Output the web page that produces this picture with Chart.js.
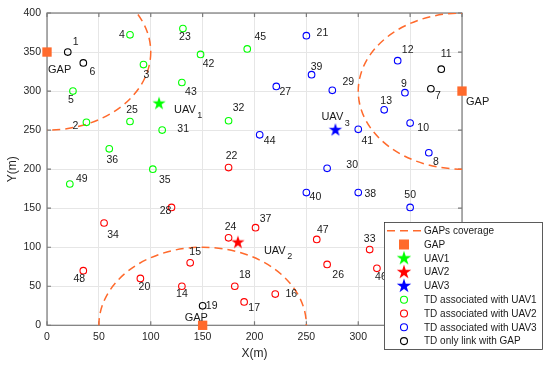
<!DOCTYPE html>
<html>
<head>
<meta charset="utf-8">
<script src="https://cdn.jsdelivr.net/npm/chart.js@4.4.1/dist/chart.umd.min.js"></script>
<style>
  html, body { margin: 0; background: #fff; }
</style>
</head>
<body>
<canvas id="chart" width="550" height="368"></canvas>
<script>
// terminal devices (TD): number, position, and what they link to (0 = GAP only, 1..3 = UAV)
const tdIds = [1,2,3,4,5,6,7,8,9,10,11,12,13,14,15,16,17,18,19,20,21,22,23,24,25,26,27,28,29,30,31,32,33,34,35,36,37,38,39,40,41,42,43,44,45,46,47,48,49,50];
const tdX = [20,38,93,80,25,35,370,368,345,350,380,338,325,130,138,220,190,181,150,90,250,175,131,175,80,270,221,120,275,270,111,175,311,55,102,60,201,300,255,250,300,148,130,205,193,318,260,35,22,350];
const tdY = [350,260,334,372,300,336,303,221,298,259,328,339,276,50,80,40,30,50,25,60,371,202,380,112,261,78,306,151,301,201,250,262,97,131,200,226,125,170,321,170,251,347,311,244,354,73,110,70,181,151];
const tdLink = [0,1,1,1,1,0,0,3,3,3,0,3,3,2,2,2,2,2,0,2,3,2,1,2,1,2,3,2,3,3,1,1,2,2,1,1,2,3,3,3,3,1,1,3,1,2,2,2,1,3];

const uavNames = ['UAV1', 'UAV2', 'UAV3'];
const uavX = [108, 184, 278];
const uavY = [284, 106, 250];

const gapX = [0, 400, 150];
const gapY = [350, 300, 0];
const coverageRadius = 100;

const axisTicks = [0, 50, 100, 150, 200, 250, 300, 350, 400];

// label placement next to each TD marker (pixels)
const labelOffset = {
  1:[8,-10], 2:[-11,4], 3:[3,11], 4:[-8,0], 5:[-2,9], 6:[9,9], 7:[7,7], 8:[7,9], 9:[-1,-9], 10:[13,5],
  11:[5,-15], 12:[10,-11], 13:[2,-9], 14:[0,8], 15:[5,-11], 16:[16,0], 17:[10,6], 18:[10,-11], 19:[9,0], 20:[4,9],
  21:[16,-3], 22:[3,-11], 23:[2,8], 24:[2,-11], 25:[2,-11], 26:[11,11], 27:[9,6], 28:[-6,4], 29:[16,-8], 30:[25,-3],
  31:[21,-1], 32:[10,-13], 33:[0,-10], 34:[9,12], 35:[12,11], 36:[3,11], 37:[10,-9], 38:[12,2], 39:[5,-8], 40:[9,5],
  41:[9,12], 42:[8,10], 43:[9,10], 44:[10,6], 45:[13,-12], 46:[4,9], 47:[6,-9], 48:[-4,8], 49:[12,-5], 50:[0,-12]
};
const uavLabelOffset = [[15,6], [26,8], [-14,-13]];
const gapLabelOffset = [[1,18], [4,11], [-18,-7]];

const FONT = '"Liberation Sans", Arial, Helvetica, sans-serif';
const ORANGE = '#ff6a2c';
const tdColors = ['#000000', '#00ff00', '#ff0000', '#0000ff'];
const uavColors = ['#00ff00', '#ff0000', '#0000ff'];

function makeStar(color, r) {
  const c = document.createElement('canvas');
  const s = Math.ceil(r * 2 + 2);
  c.width = c.height = s;
  const g = c.getContext('2d');
  g.beginPath();
  for (let i = 0; i < 10; i++) {
    const rr = i % 2 ? r * 0.382 : r;
    const a = -Math.PI / 2 + i * Math.PI / 5;
    g.lineTo(s / 2 + rr * Math.cos(a), s / 2 + rr * Math.sin(a));
  }
  g.closePath();
  g.fillStyle = color;
  g.fill();
  return c;
}
const stars = uavColors.map(c => makeStar(c, 7));

const datasets = [];
// GAP markers
datasets.push({
  label: 'GAP',
  data: gapX.map((x, i) => ({x, y: gapY[i]})),
  pointStyle: 'rect', pointRadius: 6.6,
  backgroundColor: ORANGE, borderColor: ORANGE, borderWidth: 0,
  clip: false
});
// TD groups
[1, 2, 3, 0].forEach(link => {
  const pts = [];
  tdIds.forEach((id, i) => { if (tdLink[i] === link) pts.push({x: tdX[i], y: tdY[i], id}); });
  datasets.push({
    label: link ? 'TD associated with UAV' + link : 'TD only link with GAP',
    data: pts,
    pointStyle: 'circle', pointRadius: 3.3, borderWidth: 1.1,
    borderColor: tdColors[link], backgroundColor: 'rgba(0,0,0,0)',
    clip: false
  });
});
// UAVs
uavNames.forEach((name, i) => {
  datasets.push({
    label: name,
    data: [{x: uavX[i], y: uavY[i]}],
    pointStyle: stars[i],
    clip: false
  });
});

const boxPlugin = {
  id: 'box',
  beforeDatasetsDraw(chart) {
    const {ctx, chartArea: a, scales} = chart;
    ctx.save();
    ctx.strokeStyle = '#7a7a7a';
    ctx.lineWidth = 1.2;
    ctx.beginPath();
    axisTicks.forEach(v => {
      const px = scales.x.getPixelForValue(v);
      const py = scales.y.getPixelForValue(v);
      ctx.moveTo(px, a.bottom); ctx.lineTo(px, a.bottom - 4);
      ctx.moveTo(px, a.top); ctx.lineTo(px, a.top + 4);
      ctx.moveTo(a.left, py); ctx.lineTo(a.left + 4, py);
      ctx.moveTo(a.right, py); ctx.lineTo(a.right - 4, py);
    });
    ctx.stroke();
    ctx.strokeRect(a.left, a.top, a.right - a.left, a.bottom - a.top);

    // GAP coverage circles
    ctx.beginPath();
    ctx.rect(a.left, a.top, a.right - a.left, a.bottom - a.top);
    ctx.clip();
    ctx.strokeStyle = ORANGE;
    ctx.lineWidth = 1.5;
    ctx.setLineDash([8, 5]);
    gapX.forEach((gx, i) => {
      const cx = scales.x.getPixelForValue(gx);
      const cy = scales.y.getPixelForValue(gapY[i]);
      const rx = Math.abs(scales.x.getPixelForValue(gx + coverageRadius) - cx);
      const ry = Math.abs(scales.y.getPixelForValue(gapY[i] + coverageRadius) - cy);
      ctx.beginPath();
      ctx.ellipse(cx, cy, rx, ry, 0, 0, Math.PI * 2);
      ctx.stroke();
    });
    ctx.restore();
  }
};

const labelPlugin = {
  id: 'labels',
  afterDatasetsDraw(chart) {
    const {ctx, scales} = chart;
    ctx.save();
    ctx.fillStyle = '#1a1a1a';
    ctx.font = '10.5px ' + FONT;
    ctx.textAlign = 'center';
    ctx.textBaseline = 'middle';
    tdIds.forEach((id, i) => {
      const [dx, dy] = labelOffset[id];
      ctx.fillText(String(id), scales.x.getPixelForValue(tdX[i]) + dx, scales.y.getPixelForValue(tdY[i]) + dy);
    });
    ctx.textAlign = 'left';
    ctx.font = '11px ' + FONT;
    gapX.forEach((gx, i) => {
      const [dx, dy] = gapLabelOffset[i];
      ctx.fillText('GAP', scales.x.getPixelForValue(gx) + dx, scales.y.getPixelForValue(gapY[i]) + dy);
    });
    uavNames.forEach((name, i) => {
      const [dx, dy] = uavLabelOffset[i];
      const x = scales.x.getPixelForValue(uavX[i]) + dx;
      const y = scales.y.getPixelForValue(uavY[i]) + dy;
      ctx.font = '11px ' + FONT;
      ctx.fillText('UAV', x, y);
      const w = ctx.measureText('UAV').width;
      ctx.font = '9px ' + FONT;
      ctx.fillText(name.slice(3), x + w + 1.5, y + 6);
    });
    ctx.restore();
  }
};

const legendPlugin = {
  id: 'customLegend',
  afterDraw(chart) {
    const {ctx} = chart;
    const left = 384, top = 222, w = 158, h = 127;
    const rowY = i => 230.7 + i * 13.8;
    const sx = 404, tx = 424;
    ctx.save();
    ctx.fillStyle = '#fff';
    ctx.fillRect(left, top, w, h);
    ctx.strokeStyle = '#333';
    ctx.lineWidth = 0.8;
    ctx.strokeRect(left + 0.5, top + 0.5, w, h);

    // coverage line
    ctx.strokeStyle = ORANGE;
    ctx.lineWidth = 1.5;
    ctx.setLineDash([8, 5]);
    ctx.beginPath();
    ctx.moveTo(387, rowY(0)); ctx.lineTo(421, rowY(0));
    ctx.stroke();
    ctx.setLineDash([]);
    // GAP square
    ctx.fillStyle = ORANGE;
    ctx.fillRect(sx - 5, rowY(1) - 5, 10, 10);
    // stars
    const big = uavColors.map(c => makeStar(c, 7.6));
    big.forEach((s, i) => ctx.drawImage(s, sx - s.width / 2, rowY(2 + i) - s.height / 2));
    // circles
    [1, 2, 3, 0].forEach((link, i) => {
      ctx.strokeStyle = tdColors[link];
      ctx.lineWidth = 1.1;
      ctx.beginPath();
      ctx.arc(sx, rowY(5 + i), 3.5, 0, Math.PI * 2);
      ctx.stroke();
    });
    const texts = ['GAPs coverage', 'GAP', 'UAV1', 'UAV2', 'UAV3',
      'TD associated with UAV1', 'TD associated with UAV2', 'TD associated with UAV3', 'TD only link with GAP'];
    ctx.fillStyle = '#1a1a1a';
    ctx.font = '10px ' + FONT;
    ctx.textBaseline = 'middle';
    texts.forEach((t, i) => ctx.fillText(t, tx, rowY(i) + 0.5));
    ctx.restore();
  }
};

const tickFont = {family: FONT, size: 10.5};
const titleFont = {family: FONT, size: 12};

new Chart(document.getElementById('chart'), {
  type: 'scatter',
  data: {datasets},
  options: {
    responsive: false,
    animation: false,
    layout: {padding: {top: 13, right: 88, left: 0, bottom: 0}},
    plugins: {legend: {display: false}, tooltip: {enabled: false}},
    scales: {
      x: {
        type: 'linear', min: 0, max: 400,
        afterBuildTicks: s => { s.ticks = axisTicks.map(v => ({value: v})); },
        ticks: {color: '#262626', font: tickFont, padding: 6, maxRotation: 0},
        grid: {color: '#e6e6e6', drawTicks: false},
        border: {display: false},
        title: {display: true, text: 'X(m)', color: '#262626', font: titleFont, padding: {bottom: 7}},
        afterFit: s => { s.height = 42.7; }
      },
      y: {
        type: 'linear', min: 0, max: 400,
        afterBuildTicks: s => { s.ticks = axisTicks.map(v => ({value: v})); },
        ticks: {color: '#262626', font: tickFont, padding: 6},
        grid: {color: '#e6e6e6', drawTicks: false},
        border: {display: false},
        title: {display: true, text: 'Y(m)', color: '#262626', font: titleFont, padding: {top: 5}},
        afterFit: s => { s.width = 47; }
      }
    }
  },
  plugins: [boxPlugin, labelPlugin, legendPlugin]
});
</script>
</body>
</html>
